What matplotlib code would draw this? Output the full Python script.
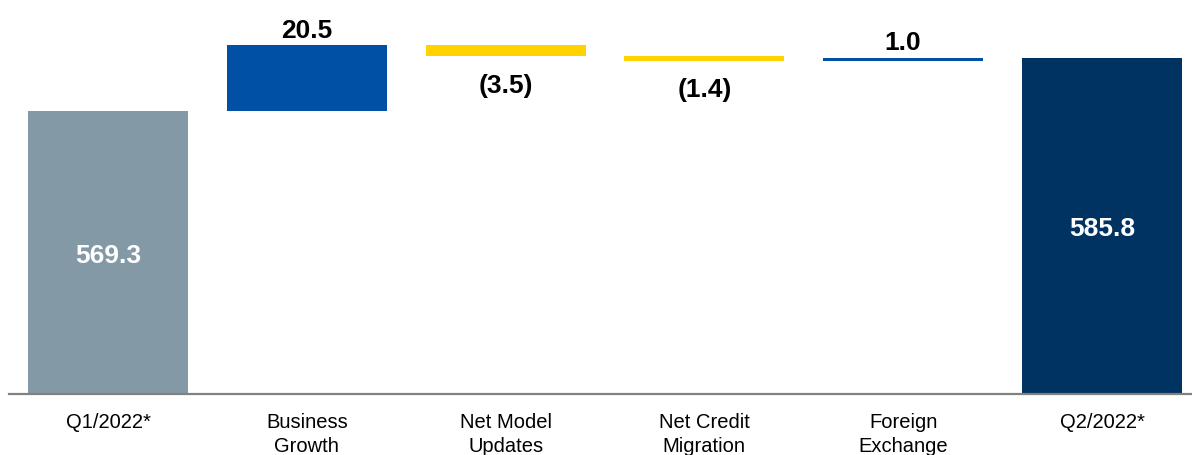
import numpy as np
import matplotlib.pyplot as plt

plt.rcParams['font.family'] = ['Liberation Sans', 'DejaVu Sans']

# Waterfall: opening total, period changes, closing total
categories = ['Q1/2022*', 'Business\nGrowth', 'Net Model\nUpdates', 'Net Credit\nMigration',
              'Foreign\nExchange', 'Q2/2022*']
start_total = 569.3
changes = [20.5, -3.5, -1.4, 1.0]
end_total = 585.8

col_total_start = '#8499A6'
col_up = '#0051A5'
col_down = '#FFD200'
col_total_end = '#003262'

fig = plt.figure(figsize=(11.92, 4.56), dpi=100)
ax = fig.add_axes([9 / 1192, 61 / 456, 1 - 9 / 1192, 395 / 456])

x = np.arange(len(categories))
w = 0.805
ymin, ymax = 481.2, 604.2
val_fs = 19

# opening bar
ax.bar(x[0], start_total - ymin, bottom=ymin, width=w, color=col_total_start)
ax.text(x[0], (start_total + ymin) / 2 - 0.8, f'{start_total:.1f}', ha='center', va='center',
        color='white', fontsize=val_fs, fontweight='bold')

# floating change bars, labelled above (gains) or below (losses)
level = start_total
for i, d in enumerate(changes):
    xi = x[i + 1]
    color = col_up if d > 0 else col_down
    ax.bar(xi, d, bottom=level, width=w, color=color)
    if d > 0:
        ax.text(xi, level + d + 1.1, f'{d:.1f}', ha='center', va='bottom',
                fontsize=val_fs, fontweight='bold', color='black')
    else:
        ax.text(xi, level + d - 5.0, f'({abs(d):.1f})', ha='center', va='top',
                fontsize=val_fs, fontweight='bold', color='black')
    level += d

# closing bar
ax.bar(x[-1], end_total - ymin, bottom=ymin, width=w, color=col_total_end)
ax.text(x[-1], (end_total + ymin) / 2 - 0.6, f'{end_total:.1f}', ha='center', va='center',
        color='white', fontsize=val_fs, fontweight='bold')

ax.set_xlim(-0.498, 5.453)
ax.set_ylim(ymin, ymax)
ax.set_xticks(x)
ax.set_xticklabels(categories, fontsize=14.5, linespacing=1.3)
ax.tick_params(axis='x', length=0, pad=13)
ax.set_yticks([])
for s in ['top', 'right', 'left']:
    ax.spines[s].set_visible(False)
ax.spines['bottom'].set_color('#808080')
ax.spines['bottom'].set_linewidth(1.6)

fig.savefig('out.png', dpi=100)
